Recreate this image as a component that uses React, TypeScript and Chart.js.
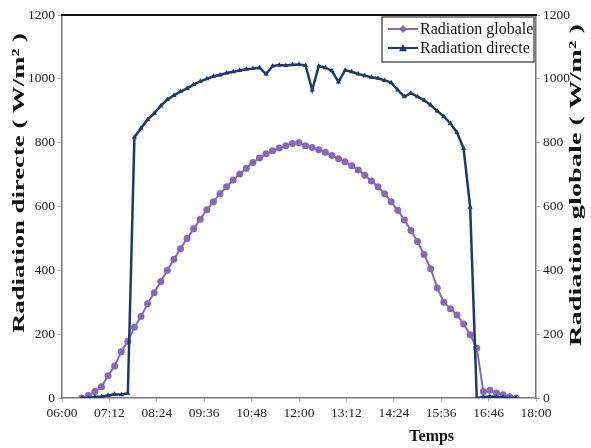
import React, { useEffect, useRef } from 'react';
import { Chart, registerables } from 'chart.js';
Chart.register(...registerables);

const times = [
  "06:30","06:40","06:50","07:00","07:10","07:20","07:30","07:40","07:50","08:00",
  "08:10","08:20","08:30","08:40","08:50","09:00","09:10","09:20","09:30","09:40",
  "09:50","10:00","10:10","10:20","10:30","10:40","10:50","11:00","11:10","11:20",
  "11:30","11:40","11:50","12:00","12:10","12:20","12:30","12:40","12:50","13:00",
  "13:10","13:20","13:30","13:40","13:50","14:00","14:10","14:20","14:30","14:40",
  "14:50","15:00","15:10","15:20","15:30","15:40","15:50","16:00","16:10","16:20",
  "16:30","16:40","16:50","17:00","17:10","17:20","17:30"
];

const radiationGlobale = [
  0, 8, 20, 35, 70, 100, 145, 178, 222, 255,
  295, 330, 365, 400, 435, 468, 500, 530, 560, 590,
  615, 640, 662, 683, 702, 720, 738, 752, 765, 775,
  783, 790, 797, 800, 790, 785, 778, 770, 760, 750,
  740, 728, 714, 698, 680, 662, 640, 615, 588, 558,
  525, 490, 450, 405, 345, 300, 280, 260, 232, 198,
  157, 20, 24, 16, 10, 4, 0
];

const radiationDirecte = [
  0, 0, 3, 5, 8, 12, 10, 15, 817, 845,
  872, 892, 915, 935, 948, 960, 970, 982, 992, 1000,
  1008, 1012, 1018, 1022, 1026, 1030, 1032, 1035, 1015, 1040,
  1043, 1042, 1044, 1045, 1042, 965, 1040, 1035, 1025, 990,
  1027, 1022, 1015, 1010, 1005, 1002, 995, 988, 965, 944,
  955, 944, 933, 918, 899, 882, 860, 832, 782, 598,
  0, 3, 5, 3, 2, 0, 0
];

const xTickLabels = ["06:00","07:12","08:24","09:36","10:48","12:00","13:12","14:24","15:36","16:46","18:00"];
const yTickValues = [0, 200, 400, 600, 800, 1000, 1200];

const seriesNames = ["Radiation globale", "Radiation directe"];
const leftTitle = "Radiation directe ( W/m² )";
const rightTitle = "Radiation globale ( W/m² )";
const xTitle = "Temps";

const COLOR_G = '#8767b6';
const COLOR_D = '#1c3a6e';

const toMin = (t: string) => {
  const [h, m] = t.split(':').map(Number);
  return h * 60 + m;
};

const X_MIN = toMin(xTickLabels[0]);
const X_MAX = toMin(xTickLabels[xTickLabels.length - 1]);
const X_STEP = (X_MAX - X_MIN) / (xTickLabels.length - 1);

function drawStretched(ctx: CanvasRenderingContext2D, text: string, x: number, y: number, len: number) {
  ctx.save();
  ctx.font = 'bold 17px "Liberation Serif"';
  const w = ctx.measureText(text).width;
  ctx.translate(x, y);
  ctx.rotate(-Math.PI / 2);
  ctx.scale(len / w, 1);
  ctx.textAlign = 'center';
  ctx.textBaseline = 'middle';
  ctx.fillStyle = '#111';
  ctx.fillText(text, 0, 0);
  ctx.restore();
}

function drawMarker(ctx: CanvasRenderingContext2D, style: string, x: number, y: number, r: number, color: string) {
  ctx.fillStyle = color;
  ctx.beginPath();
  if (style === 'diamond') {
    ctx.moveTo(x, y - r); ctx.lineTo(x + r, y); ctx.lineTo(x, y + r); ctx.lineTo(x - r, y);
  } else {
    ctx.moveTo(x, y - r); ctx.lineTo(x + r, y + r * 0.8); ctx.lineTo(x - r, y + r * 0.8);
  }
  ctx.closePath();
  ctx.fill();
}

const decorPlugin = {
  id: 'decor',
  afterDraw(chart: any) {
    const { ctx, chartArea: a } = chart;
    ctx.save();
    // top frame line
    ctx.strokeStyle = '#111';
    ctx.lineWidth = 2;
    ctx.beginPath();
    ctx.moveTo(a.left - 1, a.top);
    ctx.lineTo(a.right + 1, a.top);
    ctx.stroke();

    // axis titles
    drawStretched(ctx, leftTitle, a.left - 42, a.top + 168, 300);
    drawStretched(ctx, rightTitle, a.right + 41, a.top + 170, 322);
    ctx.font = 'bold 16px "Liberation Serif"';
    ctx.fillStyle = '#111';
    ctx.textAlign = 'center';
    ctx.textBaseline = 'middle';
    ctx.fillText(xTitle, a.left + (a.right - a.left) * 0.78, a.bottom + 39);

    // legend
    const bx = a.right - 154, by = a.top + 2, bw = 152, bh = 45;
    ctx.fillStyle = '#fff';
    ctx.fillRect(bx, by, bw, bh);
    ctx.strokeStyle = '#333';
    ctx.lineWidth = 1.2;
    ctx.strokeRect(bx, by, bw, bh);
    const rows = [
      { name: seriesNames[0], color: COLOR_G, style: 'diamond' },
      { name: seriesNames[1], color: COLOR_D, style: 'triangle' },
    ];
    rows.forEach((r, i) => {
      const cy = by + 12 + i * 19;
      ctx.strokeStyle = r.color;
      ctx.lineWidth = 2;
      ctx.beginPath();
      ctx.moveTo(bx + 6, cy);
      ctx.lineTo(bx + 36, cy);
      ctx.stroke();
      drawMarker(ctx, r.style, bx + 21, cy, 4, r.color);
      ctx.fillStyle = '#111';
      ctx.font = '16px "Liberation Serif"';
      ctx.textAlign = 'left';
      ctx.textBaseline = 'middle';
      ctx.fillText(r.name, bx + 38, cy + 1);
    });
    ctx.restore();
  },
};

export default function App() {
  const ref = useRef<HTMLCanvasElement | null>(null);

  useEffect(() => {
    if (!ref.current) return;
    const tickFont = { family: '"Liberation Serif"', size: 13.5 };
    const yAxis = (position: 'left' | 'right', width: number) => ({
      type: 'linear' as const,
      position,
      min: 0,
      max: 1200,
      afterBuildTicks: (s: any) => { s.ticks = yTickValues.map((v) => ({ value: v })); },
      ticks: { font: tickFont, color: '#222', padding: 3, callback: (v: any) => String(v) },
      grid: { drawOnChartArea: false, drawTicks: true, tickLength: 4, color: '#aaa' },
      border: { color: '#777', width: 1.5 },
      afterFit: (s: any) => { s.width = width; },
    });
    const chart = new Chart(ref.current, {
      type: 'line',
      data: {
        datasets: [
          {
            label: seriesNames[1],
            data: times.map((t, i) => ({ x: toMin(t), y: radiationDirecte[i] })),
            borderColor: COLOR_D,
            backgroundColor: COLOR_D,
            borderWidth: 2.5,
            pointStyle: 'triangle',
            pointRadius: 3,
            pointBorderWidth: 0,
            yAxisID: 'y',
            order: 0,
          },
          {
            label: seriesNames[0],
            data: times.map((t, i) => ({ x: toMin(t), y: radiationGlobale[i] })),
            borderColor: COLOR_G,
            backgroundColor: COLOR_G,
            borderWidth: 2,
            pointStyle: 'circle',
            pointRadius: 3.5,
            pointBorderWidth: 0,
            yAxisID: 'y1',
            order: 1,
          },
        ],
      },
      options: {
        animation: false,
        responsive: true,
        maintainAspectRatio: false,
        layout: { padding: { top: 15, left: 0, right: 0, bottom: 0 } },
        plugins: { legend: { display: false }, tooltip: { enabled: false } },
        scales: {
          x: {
            type: 'linear',
            min: X_MIN,
            max: X_MAX,
            afterBuildTicks: (s: any) => { s.ticks = xTickLabels.map((_, i) => ({ value: X_MIN + i * X_STEP })); },
            ticks: {
              font: tickFont,
              color: '#222',
              padding: 3,
              maxRotation: 0,
              autoSkip: false,
              callback: (v: any) => xTickLabels[Math.round((Number(v) - X_MIN) / X_STEP)] ?? '',
            },
            grid: { drawOnChartArea: false, drawTicks: true, tickLength: 4, color: '#bbb' },
            border: { color: '#777', width: 1.5 },
            afterFit: (s: any) => { s.height = 50; },
          },
          y: yAxis('left', 62),
          y1: yAxis('right', 55),
        },
      },
      plugins: [decorPlugin],
    });
    return () => chart.destroy();
  }, []);

  return (
    <div style={{ position: 'absolute', left: 0, top: 0, width: 591, height: 448, background: '#fff' }}>
      <canvas ref={ref} />
    </div>
  );
}
